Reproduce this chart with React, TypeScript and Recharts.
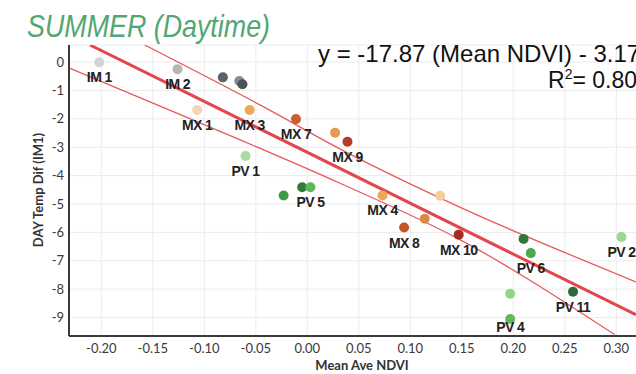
import React from 'react';
import { ComposedChart, Scatter, Line, XAxis, YAxis, CartesianGrid } from 'recharts';

// site points
const siteNames = ['IM 1', 'IM 2', '', '', '', 'MX 1', 'MX 3', 'MX 7', '', 'MX 9', 'PV 1', '', '', 'PV 5', 'MX 4', '', '', 'MX 8', 'MX 10', '', 'PV 6', 'PV 2', 'PV 11', '', 'PV 4'];
const meanNdvi = [-0.202, -0.126, -0.082, -0.066, -0.063, -0.107, -0.056, -0.011, 0.027, 0.039, -0.06, -0.023, -0.005, 0.003, 0.073, 0.129, 0.114, 0.094, 0.147, 0.21, 0.217, 0.305, 0.258, 0.197, 0.197];
const dayTempDif = [-0.01, -0.25, -0.54, -0.67, -0.78, -1.69, -1.69, -2.01, -2.49, -2.81, -3.31, -4.7, -4.41, -4.41, -4.7, -4.71, -5.52, -5.83, -6.08, -6.23, -6.73, -6.16, -8.09, -8.16, -9.05];
const siteColors = ['#d3d3d3', '#b5b5b5', '#59636d', '#838a91', '#4b5259', '#f2d6b3', '#eca758', '#c8602f', '#e59b4e', '#b63b27', '#a9dc9a', '#3c9a46', '#2f7e38', '#5db85b', '#eca758', '#f3cd9a', '#dc8849', '#c45529', '#a52b24', '#2f7a3b', '#4ca94f', '#9ad98c', '#2c6b36', '#91d585', '#63b95a'];

// regression line and its band
const fitNdvi = [-0.211, 0.319];
const fitTemp = [0.6, -8.9];
const upperNdvi = [-0.158, -0.046, 0.039, 0.139, 0.319];
const upperTemp = [0.6, -1.51, -3.2, -4.96, -7.74];
const lowerNdvi = [-0.2304, -0.1042, 0.0318, 0.1463, 0.2984];
const lowerTemp = [-0.22, -2.14, -4.27, -6.22, -9.6];

const xTicks = [-0.2, -0.15, -0.1, -0.05, 0, 0.05, 0.1, 0.15, 0.2, 0.25, 0.3];
const yTicks = [0, -1, -2, -3, -4, -5, -6, -7, -8, -9];

const points = meanNdvi.map((x, i) => ({ x, y: dayTempDif[i], site: siteNames[i], color: siteColors[i] }));
const toLine = (xs: number[], ys: number[]) => xs.map((x, i) => ({ x, y: ys[i] }));

// labels sit under the dot, PV 4 a bit higher (axis is right below)
const labelNudge: Record<string, number> = { 'PV 4': -7 };

const SiteDot = (props: any) => {
  const { cx, cy, payload } = props;
  if (cx == null || cy == null) return null;
  return (
    <g>
      <circle cx={cx} cy={cy} r={5} fill={payload.color} />
      {payload.site && (
        <text
          x={cx}
          y={cy + 20 + (labelNudge[payload.site] || 0)}
          textAnchor="middle"
          fontFamily="Liberation Sans, Arial, sans-serif"
          fontWeight="bold"
          fontSize={14}
          letterSpacing={-0.6}
          fill="#222"
        >
          {payload.site}
        </text>
      )}
    </g>
  );
};

const tickStyle = { fontFamily: 'Lato, sans-serif', fontSize: 13, fill: '#3a3a3a' };

export default function App() {
  return (
    <div style={{ position: 'fixed', left: 0, top: 0, width: 636, height: 374, overflow: 'hidden', background: '#fff' }}>
      <ComposedChart width={655} height={374} margin={{ top: 45, right: 0, bottom: 0, left: 0 }}>
        <CartesianGrid stroke="#ececec" />
        <XAxis
          type="number"
          dataKey="x"
          domain={[-0.2314, 0.3376]}
          allowDataOverflow
          ticks={xTicks}
          tickFormatter={(v) => Number(v).toFixed(2)}
          tickLine={false}
          tickSize={6}
          tickMargin={2}
          height={38}
          tick={tickStyle}
          axisLine={{ stroke: '#3a3a3a', strokeWidth: 2 }}
        />
        <YAxis
          type="number"
          dataKey="y"
          domain={[-9.65, 0.6]}
          allowDataOverflow
          ticks={yTicks}
          tickLine={false}
          tickSize={3}
          tickMargin={2}
          width={69}
          tick={tickStyle}
          axisLine={{ stroke: '#3a3a3a', strokeWidth: 2 }}
        />
        <Scatter data={points} shape={SiteDot} isAnimationActive={false} />
        <Line data={toLine(upperNdvi, upperTemp)} dataKey="y" type="monotone" stroke="#e85a5e" strokeWidth={1.3} dot={false} isAnimationActive={false} />
        <Line data={toLine(lowerNdvi, lowerTemp)} dataKey="y" type="monotone" stroke="#e85a5e" strokeWidth={1.3} dot={false} isAnimationActive={false} />
        <Line data={toLine(fitNdvi, fitTemp)} dataKey="y" type="linear" stroke="#e2474b" strokeWidth={3} dot={false} isAnimationActive={false} />
      </ComposedChart>
      <svg width={636} height={374} style={{ position: 'absolute', left: 0, top: 0, pointerEvents: 'none' }}>
        <text x={27} y={37} fontFamily="Liberation Sans, Arial, sans-serif" fontStyle="italic" fontSize={32} fill="#52a673" textLength={243} lengthAdjust="spacingAndGlyphs">
          SUMMER (Daytime)
        </text>
        <text x={318} y={62} fontFamily="Liberation Sans, Arial, sans-serif" fontSize={24} fill="#111">
          y = -17.87 (Mean NDVI) - 3.17
        </text>
        <text x={548} y={88} fontFamily="Liberation Sans, Arial, sans-serif" fontSize={23} fill="#111">
          <tspan>R</tspan>
          <tspan fontSize={14} dy={-9}>2</tspan>
          <tspan dy={9}>= 0.80</tspan>
        </text>
        <text x={362} y={370} textAnchor="middle" fontFamily="Lato, sans-serif" fontWeight="bold" fontSize={13} fill="#333">
          Mean Ave NDVI
        </text>
        <text x={43} y={190} transform="rotate(-90 43 190)" textAnchor="middle" fontFamily="Lato, sans-serif" fontWeight="bold" fontSize={13} fill="#333">
          DAY Temp Dif (IM1)
        </text>
      </svg>
    </div>
  );
}
